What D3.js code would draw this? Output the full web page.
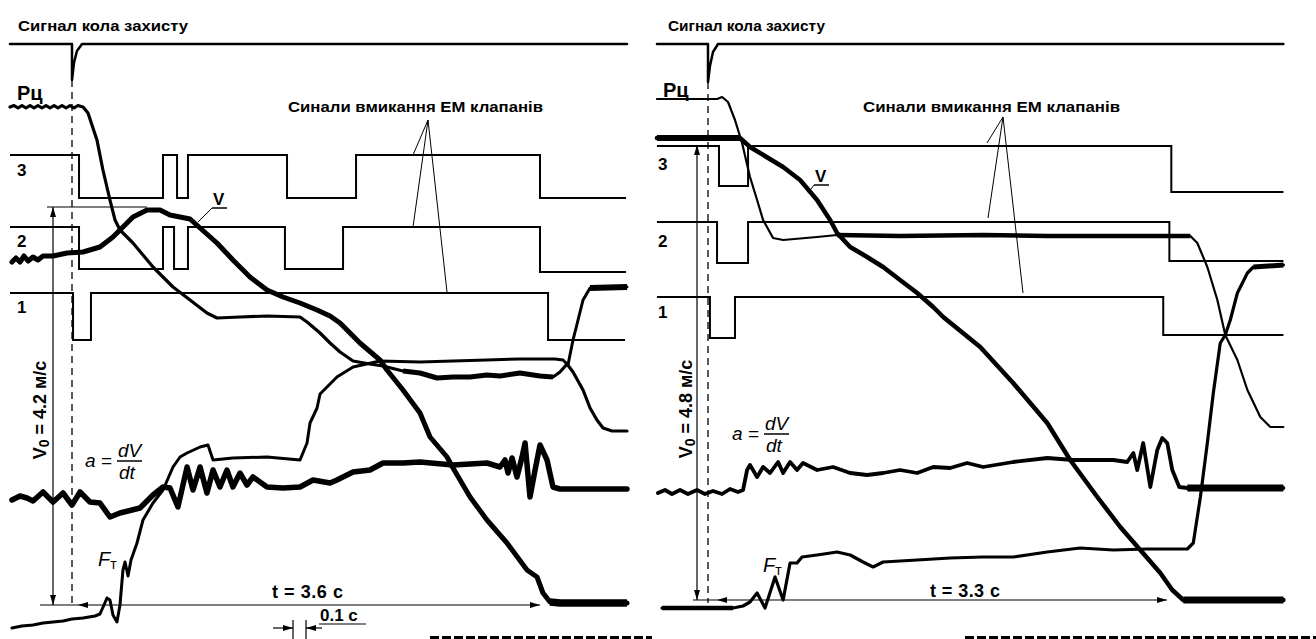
<!DOCTYPE html>
<html>
<head>
<meta charset="utf-8">
<script src="https://cdn.jsdelivr.net/npm/d3@7"></script>
<style>
  body { margin: 0; background: #fff; }
  svg { display: block; }
  text { font-family: "Liberation Sans", Arial, sans-serif; fill: #000; }
</style>
</head>
<body>
<script>
// Oscillograms of emergency braking.
// time t in seconds from the protection signal, level v in chart divisions

// ---------- left record, V0 = 4.2 m/s, t = 3.6 s ----------
var leftProtect = [[-0.477,57.6],[0,57.6],[0,54.0],[0.015,55.7],[0.038,56.9],[0.077,57.6],[4.269,57.6]];

var leftPc = [[-0.477,51.3],[-0.446,51.45],[-0.415,51.2],[-0.385,51.45],[-0.354,51.2],[-0.323,51.45],
  [-0.292,51.2],[-0.262,51.45],[-0.231,51.2],[-0.2,51.45],[-0.169,51.2],[-0.138,51.45],[-0.108,51.2],
  [-0.077,51.45],[-0.046,51.2],[-0.015,51.45],[0.015,51.2],[0.046,51.45],[0.085,51.3],[0.123,50.7],
  [0.192,48.0],[0.238,45.0],[0.292,42.0],[0.331,40.0],[0.369,39.0],[0.469,37.7],[0.623,35.3],
  [0.777,33.3],[0.908,32.0],[1.038,30.7],[1.115,30.2],[1.292,30.3],[1.5,30.4],[1.754,30.3],
  [1.808,29.8],[1.908,28.7],[1.985,27.7],[2.062,26.8],[2.162,25.9],[2.292,25.6],[2.392,25.4],
  [2.546,24.9],[2.677,24.7],[2.808,24.2],[2.931,24.3],[3.062,24.3],[3.192,24.5],[3.292,24.4],
  [3.446,24.7],[3.6,24.4],[3.7,24.3],[3.754,24.8],[3.808,25.6],[3.854,24.8],[3.931,23.0],
  [3.985,21.2],[4.038,20.0],[4.085,19.2],[4.154,18.9],[4.269,18.9]];

var leftV = [[-0.462,35.8],[-0.431,36.2],[-0.4,35.8],[-0.369,36.4],[-0.338,35.9],[-0.3,36.3],
  [-0.262,36.0],[-0.223,36.4],[-0.146,36.4],[-0.038,36.7],[0.085,36.8],[0.215,37.3],[0.315,38.3],
  [0.369,39.0],[0.469,40.3],[0.577,41.0],[0.677,41.0],[0.754,40.5],[0.831,40.3],[0.908,40.1],
  [0.985,39.2],[1.115,37.7],[1.238,36.0],[1.369,34.3],[1.5,33.0],[1.623,32.3],[1.754,31.7],
  [1.885,31.0],[1.985,30.4],[2.062,29.7],[2.215,27.7],[2.369,26.0],[2.423,25.0],[2.546,23.0],
  [2.677,20.7],[2.754,18.3],[2.885,16.3],[2.931,15.2],[3.062,12.3],[3.192,10.0],[3.346,7.7],
  [3.5,5.0],[3.577,4.3],[3.623,2.7],[3.677,1.8],[3.754,1.7],[4.269,1.7]];

var leftA = [[-0.462,12.0],[-0.4,12.4],[-0.346,12.2],[-0.3,11.9],[-0.223,12.8],[-0.146,11.8],
  [-0.069,12.7],[0,11.5],[0.062,12.8],[0.138,11.8],[0.215,11.7],[0.292,10.3],[0.369,10.7],
  [0.523,11.2],[0.623,12.5],[0.7,13.3],[0.754,13.2],[0.815,11.3],[0.885,15.3],[0.931,13.0],
  [0.985,15.3],[1.038,12.7],[1.085,15.0],[1.138,13.3],[1.192,15.0],[1.238,13.3],[1.292,14.7],
  [1.346,13.5],[1.392,14.3],[1.5,13.3],[1.623,13.2],[1.754,13.3],[1.854,14.0],[1.985,13.7],
  [2.038,14.0],[2.162,14.8],[2.292,15.0],[2.392,15.7],[2.546,15.7],[2.677,15.8],[2.931,15.5],
  [3.192,15.7],[3.292,15.3],[3.331,16.0],[3.354,14.7],[3.385,16.2],[3.423,14.3],[3.462,16.3],
  [3.485,17.7],[3.523,12.3],[3.562,15.0],[3.6,17.5],[3.654,16.0],[3.7,13.3],[3.754,13.1],[4.269,13.1]];

var leftF = [[-0.462,-0.8],[-0.385,-0.6],[-0.3,-0.5],[-0.223,-0.3],[-0.146,-0.2],[-0.069,-0.1],
  [0,0.1],[0.085,0.2],[0.177,0.4],[0.215,0.6],[0.246,1.5],[0.269,2.2],[0.292,2.0],[0.315,0.5],
  [0.346,-0.2],[0.369,1.5],[0.392,5.0],[0.408,5.8],[0.431,4.4],[0.454,6.0],[0.5,7.7],[0.546,10.0],
  [0.623,11.7],[0.7,13.0],[0.777,15.3],[0.831,16.3],[0.885,16.7],[0.985,17.3],[1.046,17.5],
  [1.085,16.0],[1.238,16.2],[1.5,16.3],[1.754,16.0],[1.808,17.7],[1.831,19.7],[1.885,21.2],
  [1.908,22.6],[2.038,24.3],[2.162,25.3],[2.369,25.9],[2.677,25.8],[2.931,25.9],[3.192,26.0],
  [3.446,26.1],[3.715,26.1],[3.777,26.0],[3.815,25.5],[3.854,28.0],[3.931,32.0],[3.985,33.2],[4.269,33.3]];

var leftValve3 = [[-0.477,46.5],[0.054,42.2],[0.7,46.5],[0.808,42.2],[0.892,46.5],[1.654,42.2],[2.185,46.5],[3.6,42.2],[4.262,42.2]];
var leftValve2 = [[-0.477,39.3],[0.054,35.1],[0.7,39.3],[0.785,35.1],[0.892,39.3],[1.638,35.1],[2.085,39.3],[3.6,34.8],[4.262,34.8]];
var leftValve1 = [[-0.477,32.7],[0.008,28.0],[0.146,32.7],[3.662,28.0],[4.254,28.0]];

// ---------- right record, V0 = 4.8 m/s, t = 3.3 s ----------
var rightProtect = [[-0.367,57.6],[0,57.6],[0,53.8],[0.014,55.4],[0.036,56.8],[0.072,57.6],[4.137,57.6]];

var rightPc = [[-0.367,52.1],[0.065,52.1],[0.101,52.3],[0.144,51.8],[0.194,50.0],[0.245,47.7],
  [0.302,44.3],[0.353,42.0],[0.396,40.0],[0.468,38.2],[0.540,38.0],[0.784,38.3],[0.928,38.5],
  [1.381,38.4],[1.978,38.5],[2.439,38.4],[2.914,38.4],[3.468,38.4],[3.518,37.7],[3.590,35.3],
  [3.662,32.0],[3.719,28.5],[3.806,26.0],[3.878,23.0],[3.971,20.3],[4.043,19.3],[4.137,19.3]];

var rightV = [[-0.367,48.2],[0.230,48.2],[0.302,47.3],[0.540,45.3],[0.662,44.0],[0.784,42.0],
  [0.878,40.0],[0.928,38.7],[1.022,37.3],[1.144,36.3],[1.259,35.3],[1.381,34.0],[1.504,32.7],
  [1.619,31.3],[1.691,30.3],[1.957,27.3],[2.194,23.7],[2.439,19.7],[2.604,16.0],[2.799,12.3],
  [2.964,9.3],[3.108,7.0],[3.252,4.7],[3.338,3.0],[3.417,2.0],[4.137,2.0]];

var rightA = [[-0.360,12.7],[-0.309,13.0],[-0.259,12.6],[-0.201,13.0],[-0.144,12.6],[-0.079,13.0],
  [-0.022,12.6],[0.036,12.9],[0.101,12.6],[0.158,13.1],[0.216,12.8],[0.252,13.0],[0.281,15.0],
  [0.302,15.5],[0.353,14.3],[0.396,15.3],[0.446,14.7],[0.504,15.8],[0.540,14.7],[0.590,15.8],
  [0.640,15.0],[0.683,15.7],[0.784,15.0],[0.899,15.3],[1.022,14.7],[1.144,14.5],[1.259,14.7],
  [1.381,15.0],[1.504,14.7],[1.619,15.3],[1.741,15.2],[1.863,15.7],[1.978,15.3],[2.194,15.8],
  [2.439,16.2],[2.626,16.0],[2.914,16.0],[3.014,15.8],[3.058,16.7],[3.086,15.0],[3.129,17.7],
  [3.180,13.3],[3.230,17.0],[3.266,18.2],[3.302,17.7],[3.338,15.0],[3.388,13.3],[3.446,13.2],[4.137,13.2]];

var rightF = [[-0.331,1.2],[0.180,1.2],[0.252,1.4],[0.302,1.8],[0.353,2.7],[0.410,1.2],[0.482,4.3],
  [0.540,2.0],[0.590,5.7],[0.640,5.7],[0.676,6.3],[0.784,6.5],[0.928,6.8],[1.022,6.5],[1.115,5.8],
  [1.187,5.3],[1.259,5.8],[1.504,6.0],[1.741,6.2],[1.978,6.3],[2.194,6.3],[2.439,6.8],[2.676,7.2],
  [2.914,7.0],[3.158,7.1],[3.446,7.1],[3.489,7.7],[3.540,12.3],[3.590,17.7],[3.633,22.7],
  [3.683,27.7],[3.719,28.5],[3.755,30.0],[3.806,32.7],[3.878,34.7],[3.921,35.3],[4.137,35.5]];

var rightValve3 = [[-0.367,47.4],[0.079,43.4],[0.288,47.4],[3.331,42.8],[4.137,42.8]];
var rightValve2 = [[-0.367,39.8],[0.065,35.7],[0.288,39.8],[3.317,35.9],[4.137,35.9]];
var rightValve1 = [[-0.367,32.3],[0.014,28.2],[0.194,32.3],[3.273,28.5],[4.137,28.5]];

var titleText = "Сигнал кола захисту";
var valveText = "Синали вмикання ЕМ клапанів";
var channelNames = ["3", "2", "1"];

var svg = d3.select("body").append("svg")
    .attr("width", 1316)
    .attr("height", 639);

// one vertical scale for both records (chart divisions)
var y = d3.scaleLinear().domain([0, 60]).range([620, 20]);

function arrowHead(g, tipX, tipY, dir) {
  // dir: "up" "down" "left" "right"
  var L = 10, W = 3;
  var p;
  if (dir == "up") p = [[tipX, tipY], [tipX - W, tipY + L], [tipX + W, tipY + L]];
  if (dir == "down") p = [[tipX, tipY], [tipX - W, tipY - L], [tipX + W, tipY - L]];
  if (dir == "left") p = [[tipX, tipY], [tipX + L, tipY - W], [tipX + L, tipY + W]];
  if (dir == "right") p = [[tipX, tipY], [tipX - L, tipY - W], [tipX - L, tipY + W]];
  g.append("path").attr("d", "M" + p.join("L") + "Z").attr("fill", "#000");
}

function drawPanel(p) {
  var x = d3.scaleLinear().domain([0, p.tSpan]).range([p.x0, p.xT]);
  var g = svg.append("g");

  var line = d3.line().x(function(d){ return x(d[0]); }).y(function(d){ return y(d[1]); });
  var step = d3.line().x(function(d){ return x(d[0]); }).y(function(d){ return y(d[1]); })
      .curve(d3.curveStepAfter);

  // dashed marker of the protection signal
  g.append("line")
    .attr("x1", x(0)).attr("x2", x(0))
    .attr("y1", p.dashTop).attr("y2", p.dashBottom)
    .attr("stroke", "#000").attr("stroke-width", 1.3)
    .attr("stroke-dasharray", "7,5");

  // traces
  p.traces.forEach(function(tr) {
    g.append("path")
      .attr("d", (tr.step ? step : line)(tr.data))
      .attr("fill", "none")
      .attr("stroke", "#000")
      .attr("stroke-width", tr.w)
      .attr("stroke-linejoin", tr.step ? "miter" : "round")
      .attr("stroke-linecap", tr.step ? "butt" : "round");
    (tr.thick || []).forEach(function(s) {
      var seg = tr.data.filter(function(d){ return d[0] >= s[0] && d[0] <= s[1]; });
      g.append("path")
        .attr("d", line(seg))
        .attr("fill", "none").attr("stroke", "#000")
        .attr("stroke-width", s[2])
        .attr("stroke-linejoin", "round");
    });
  });

  // titles
  g.append("text").attr("x", p.title[0]).attr("y", p.title[1])
    .attr("font-size", 15).attr("font-weight", "bold")
    .attr("textLength", p.title[2]).attr("lengthAdjust", "spacingAndGlyphs")
    .text(titleText);

  g.append("text").attr("x", p.pc[0]).attr("y", p.pc[1])
    .attr("font-size", 20).attr("font-weight", "bold").text("Рц");

  channelNames.forEach(function(c, i) {
    g.append("text").attr("x", p.chan[i][0]).attr("y", p.chan[i][1])
      .attr("font-size", 17).attr("font-weight", "bold").text(c);
  });

  g.append("text").attr("x", p.em[0]).attr("y", p.em[1])
    .attr("font-size", 15).attr("font-weight", "bold")
    .attr("textLength", p.em[2]).attr("lengthAdjust", "spacingAndGlyphs")
    .text(valveText);

  p.leaders.forEach(function(e) {
    g.append("line").attr("x1", p.apex[0]).attr("y1", p.apex[1])
      .attr("x2", e[0]).attr("y2", e[1])
      .attr("stroke", "#000").attr("stroke-width", 1);
  });

  // V label
  g.append("text").attr("x", p.vLab[0]).attr("y", p.vLab[1])
    .attr("font-size", 17).attr("font-weight", "bold").text("V");
  g.append("line").attr("x1", p.vLab[0] - 1).attr("x2", p.vLab[0] + 14)
    .attr("y1", p.vLab[1] + 3).attr("y2", p.vLab[1] + 3)
    .attr("stroke", "#000").attr("stroke-width", 1.5);
  g.append("line").attr("x1", p.vLab[2]).attr("y1", p.vLab[3])
    .attr("x2", p.vLab[0] - 1).attr("y2", p.vLab[1] + 3)
    .attr("stroke", "#000").attr("stroke-width", 1);

  // a = dV/dt
  var ax = p.aLab[0], ay = p.aLab[1];
  g.append("text").attr("x", ax).attr("y", ay)
    .attr("font-size", 19).attr("font-style", "italic").text("a =");
  g.append("text").attr("x", ax + 33).attr("y", ay - 10)
    .attr("font-size", 19).attr("font-style", "italic").text("dV");
  g.append("line").attr("x1", ax + 32).attr("x2", ax + 57)
    .attr("y1", ay - 6).attr("y2", ay - 6)
    .attr("stroke", "#000").attr("stroke-width", 1.5);
  g.append("text").attr("x", ax + 34).attr("y", ay + 12)
    .attr("font-size", 19).attr("font-style", "italic").text("dt");

  // F_T
  var ft = g.append("text").attr("x", p.fLab[0]).attr("y", p.fLab[1])
    .attr("font-size", 20).attr("font-style", "italic");
  ft.append("tspan").text("F");
  ft.append("tspan").attr("font-size", 14).attr("font-style", "normal")
    .attr("dy", 3).text("т");

  // V0 arrow
  var v0 = p.v0;
  g.append("line").attr("x1", v0.x).attr("x2", v0.x)
    .attr("y1", v0.top).attr("y2", v0.bottom)
    .attr("stroke", "#000").attr("stroke-width", 1.2);
  arrowHead(g, v0.x, v0.top, "up");
  arrowHead(g, v0.x, v0.bottom, "down");
  if (v0.refTo) {
    g.append("line").attr("x1", v0.refFrom).attr("x2", v0.refTo)
      .attr("y1", v0.top).attr("y2", v0.top)
      .attr("stroke", "#000").attr("stroke-width", 1);
  }
  var vt = g.append("text")
    .attr("transform", "translate(" + v0.tx + "," + v0.ty + ") rotate(-90)")
    .attr("text-anchor", "middle")
    .attr("font-size", 18).attr("font-weight", "bold");
  vt.append("tspan").text("V");
  vt.append("tspan").attr("font-size", 14).attr("dy", 3).text("0");
  vt.append("tspan").attr("dy", -3).text(" = " + v0.text);

  // braking time arrow
  g.append("line").attr("x1", p.tArrow[1]).attr("x2", x(p.tSpan))
    .attr("y1", p.tArrow[0]).attr("y2", p.tArrow[0])
    .attr("stroke", "#000").attr("stroke-width", 1.2);
  arrowHead(g, x(p.tSpan), p.tArrow[0], "right");
  arrowHead(g, p.tArrow[2], p.tArrow[0], "left");
  g.append("text").attr("x", p.tText[0]).attr("y", p.tText[1])
    .attr("font-size", 18).attr("font-weight", "bold")
    .attr("textLength", p.tText[2]).attr("lengthAdjust", "spacing")
    .text("t = " + p.tSpan + " с");

  // 0.1 s scale mark
  if (p.scaleMark) {
    var m1 = x(p.scaleMark), m2 = x(p.scaleMark + 0.1), my = 628;
    [m1, m2].forEach(function(m) {
      g.append("line").attr("x1", m).attr("x2", m).attr("y1", 620).attr("y2", 639)
        .attr("stroke", "#000").attr("stroke-width", 1.2);
    });
    g.append("line").attr("x1", m1 - 20).attr("x2", m1).attr("y1", my).attr("y2", my)
      .attr("stroke", "#000").attr("stroke-width", 1.2);
    g.append("line").attr("x1", m2).attr("x2", m2 + 16).attr("y1", my).attr("y2", my)
      .attr("stroke", "#000").attr("stroke-width", 1.2);
    arrowHead(g, m1, my, "right");
    arrowHead(g, m2, my, "left");
    g.append("text").attr("x", m2 + 14).attr("y", 621)
      .attr("font-size", 17).attr("font-weight", "bold").text("0.1 с");
    g.append("line").attr("x1", m2 + 13).attr("x2", m2 + 60).attr("y1", 624).attr("y2", 624)
      .attr("stroke", "#000").attr("stroke-width", 1.2);
  }

  // cut-off text row at the bottom edge
  g.append("line").attr("x1", p.bottomRow[0]).attr("x2", p.bottomRow[1])
    .attr("y1", 637.5).attr("y2", 637.5)
    .attr("stroke", "#000").attr("stroke-width", 3)
    .attr("stroke-dasharray", "9,3");
}

drawPanel({
  tSpan: 3.6, x0: 72, xT: 540,
  dashTop: 80, dashBottom: 607,
  traces: [
    { data: leftProtect, w: 2.5 },
    { data: leftValve3, w: 2, step: true },
    { data: leftValve2, w: 2, step: true },
    { data: leftValve1, w: 2, step: true },
    { data: leftPc, w: 3.2, thick: [[2.4, 3.75, 5]] },
    { data: leftF, w: 3, thick: [[3.95, 4.3, 6]] },
    { data: leftA, w: 5.5 },
    { data: leftV, w: 5, thick: [[3.67, 4.3, 7.5]] }
  ],
  title: [18, 31, 170],
  pc: [17, 100],
  chan: [[17, 176], [17, 247], [17, 313]],
  em: [288, 112, 255],
  apex: [428, 120],
  leaders: [[413, 155], [413, 227], [447, 292]],
  vLab: [213, 205, 198, 222],
  aLab: [85, 467],
  fLab: [98, 566],
  v0: { x: 53, top: 207, bottom: 605, refFrom: 47, refTo: 147, tx: 46, ty: 410, text: "4.2 м/с" },
  tArrow: [605, 40, 78],
  tText: [272, 598, 71],
  scaleMark: 1.7,
  bottomRow: [430, 652]
});

drawPanel({
  tSpan: 3.3, x0: 708, xT: 1167,
  dashTop: 82, dashBottom: 603,
  traces: [
    { data: rightProtect, w: 2.5 },
    { data: rightValve3, w: 2, step: true },
    { data: rightValve2, w: 2, step: true },
    { data: rightValve1, w: 2, step: true },
    { data: rightPc, w: 2.2, thick: [[0.9, 3.47, 4.5]] },
    { data: rightF, w: 3.2, thick: [[-0.4, 0.2, 4.5], [3.9, 4.2, 5]] },
    { data: rightA, w: 3.8, thick: [[3.44, 4.2, 7]] },
    { data: rightV, w: 4.5, thick: [[-0.4, 0.23, 6], [3.41, 4.2, 7]] }
  ],
  title: [668, 31, 157],
  pc: [663, 97],
  chan: [[658, 170], [658, 247], [658, 318]],
  em: [863, 112, 257],
  apex: [1003, 117],
  leaders: [[987, 143], [988, 218], [1023, 293]],
  vLab: [815, 182, 808, 193],
  aLab: [732, 440],
  fLab: [763, 572],
  v0: { x: 697, top: 145, bottom: 600, tx: 692, ty: 409, text: "4.8 м/с" },
  tArrow: [600, 693, 717],
  tText: [930, 597, 70],
  scaleMark: null,
  bottomRow: [965, 1316]
});
</script>
</body>
</html>
